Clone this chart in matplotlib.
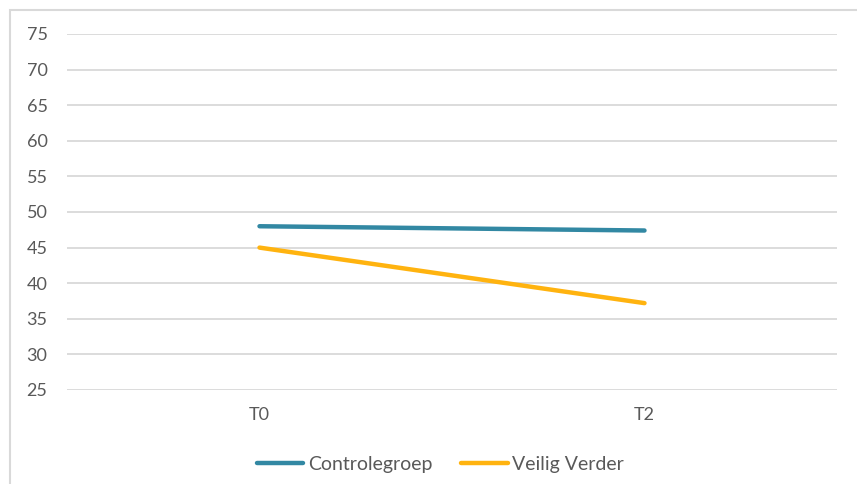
import matplotlib
matplotlib.use("Agg")
import matplotlib.pyplot as plt
from matplotlib.patches import Rectangle

# meetmomenten en gemiddelde scores per groep
momenten = ["T0", "T2"]
controlegroep = [48.0, 47.4]
veilig_verder = [45.0, 37.2]
y_ticks = [25, 30, 35, 40, 45, 50, 55, 60, 65, 70, 75]

plt.rcParams['font.family'] = ['Lato', 'DejaVu Sans']

fig = plt.figure(figsize=(8.57, 4.84), dpi=100)
fig.patch.set_facecolor("white")

# grijs kader rond de grafiek
fig.patches.append(Rectangle((10 / 857, -0.1), 1.1, 1 - 10 / 484 + 0.1,
                             transform=fig.transFigure, fill=False,
                             edgecolor="#d9d9d9", linewidth=1.5))

ax = fig.add_axes([67 / 857, 1 - 390 / 484, 770 / 857, 356 / 484])

x = range(len(momenten))
ax.plot(x, controlegroep, color="#3288a3", linewidth=3.2,
        solid_capstyle="round", label="Controlegroep")
ax.plot(x, veilig_verder, color="#ffb30f", linewidth=3.2,
        solid_capstyle="round", label="Veilig Verder")

ax.set_xlim(-0.5, len(momenten) - 0.5)
ax.set_ylim(25, 75)
ax.set_yticks(y_ticks)
ax.set_xticks(list(x))
ax.set_xticklabels(momenten)

ax.grid(axis="y", color="#d9d9d9", linewidth=1.3)
ax.set_axisbelow(True)
for s in ax.spines.values():
    s.set_visible(False)
ax.tick_params(length=0, labelsize=13, labelcolor="#595959")
ax.tick_params(axis="y", pad=14)
ax.tick_params(axis="x", pad=12.5)

leg = ax.legend(loc="upper center", bbox_to_anchor=(0.485, -0.135), ncol=2,
                frameon=False, fontsize=14, handlelength=2.4,
                handletextpad=0.25, columnspacing=1.45)
for t in leg.get_texts():
    t.set_color("#595959")

fig.savefig("out.png", dpi=100)
